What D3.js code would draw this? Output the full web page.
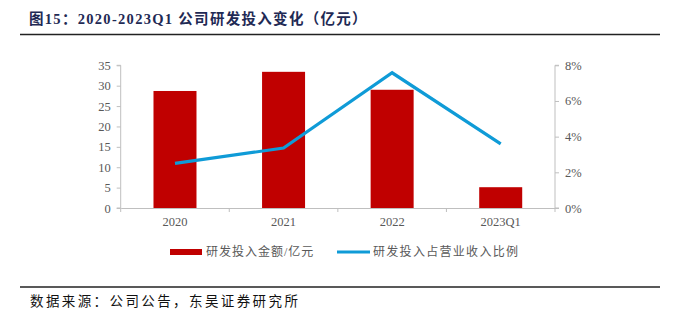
<!DOCTYPE html>
<html><head><meta charset="utf-8">
<script src="https://cdn.jsdelivr.net/npm/d3@7"></script>
<style>body{margin:0;background:#fff}svg{display:block}</style>
</head><body>
<svg id="c" width="675" height="321"></svg>
<script>
const categories = ["2020", "2021", "2022", "2023Q1"];
const rdAmount = [28.7, 33.4, 29.0, 5.1];
const rdRatio = [2.5, 3.36, 7.58, 3.59];
const leftTicks = [0, 5, 10, 15, 20, 25, 30, 35];
const rightTicks = [0, 2, 4, 6, 8];
const titleText = "图15：2020-2023Q1 公司研发投入变化（亿元）";
const sourceText = "数据来源：公司公告，东吴证券研究所";
const legendLabels = ["研发投入金额/亿元", "研发投入占营业收入比例"];

const svg = d3.select("#c");
const serif = "'Liberation Serif','Times New Roman','Noto Sans CJK SC',serif";
const cjk = "'Liberation Serif','Noto Sans CJK SC',sans-serif";

// title
svg.append("text").attr("x", 29).attr("y", 24)
  .attr("font-family", cjk).attr("font-weight", "bold").attr("font-size", 14.5)
  .attr("letter-spacing", 1.3)
  .attr("fill", "#1f2a55").text(titleText);
svg.append("line").attr("x1", 20).attr("x2", 660).attr("y1", 34.5).attr("y2", 34.5)
  .attr("stroke", "#222").attr("stroke-width", 1.6);

const x0 = 120.7, x1 = 555, yb = 208, yt = 65.3;
const x = d3.scaleBand().domain(categories).range([x0, x1]).paddingInner(0).paddingOuter(0);
const yL = d3.scaleLinear().domain([0, 35]).range([yb, yt]);
const yR = d3.scaleLinear().domain([0, 8]).range([yb, yt]);
const axisCol = "#bfbfbf", textCol = "#595959";

// bars
const bw = 43;
svg.append("g").selectAll("rect").data(rdAmount).join("rect")
  .attr("x", (d, i) => x(categories[i]) + x.bandwidth() / 2 - bw / 2)
  .attr("width", bw)
  .attr("y", d => yL(d)).attr("height", d => yb - yL(d))
  .attr("fill", "#c00000");

// axes
const gL = svg.append("g").attr("transform", `translate(${x0},0)`)
  .call(d3.axisLeft(yL).tickValues(leftTicks).tickSize(4).tickPadding(6));
const gR = svg.append("g").attr("transform", `translate(${x1},0)`)
  .call(d3.axisRight(yR).tickValues(rightTicks).tickSize(4).tickPadding(6).tickFormat(d => d + "%"));
const gX = svg.append("g").attr("transform", `translate(0,${yb})`)
  .call(d3.axisBottom(x).tickSize(0).tickPadding(9));
const bounds = categories.map(c => x(c)).concat([x1]);
svg.append("g").selectAll("line").data(bounds).join("line")
  .attr("x1", d => d).attr("x2", d => d).attr("y1", yb).attr("y2", yb + 4)
  .attr("stroke", axisCol);
[gL, gR, gX].forEach(g => {
  g.selectAll("path,line").attr("stroke", axisCol);
  g.select(".domain").attr("stroke", axisCol);
  g.selectAll("text").attr("font-family", serif).attr("font-size", 12.5).attr("fill", textCol);
});
gL.select(".domain").attr("d", `M-4,${yt}H0V${yb}H-4`);
gR.select(".domain").attr("d", `M4,${yt}H0V${yb}H4`);

// line
const line = d3.line().x((d, i) => x(categories[i]) + x.bandwidth() / 2).y(d => yR(d));
svg.append("path").datum(rdRatio).attr("d", line)
  .attr("fill", "none").attr("stroke", "#0f9bd7").attr("stroke-width", 3.2)
  .attr("stroke-linejoin", "miter");

// legend
const ly = 252;
svg.append("rect").attr("x", 170).attr("y", ly - 3).attr("width", 32).attr("height", 6).attr("fill", "#c00000");
svg.append("text").attr("x", 206).attr("y", ly).attr("dy", "0.35em")
  .attr("font-family", cjk).attr("font-size", 12).attr("letter-spacing", 1)
  .attr("fill", textCol).text(legendLabels[0]);
svg.append("line").attr("x1", 337).attr("x2", 370).attr("y1", ly).attr("y2", ly)
  .attr("stroke", "#0f9bd7").attr("stroke-width", 3.2);
svg.append("text").attr("x", 373).attr("y", ly).attr("dy", "0.35em")
  .attr("font-family", cjk).attr("font-size", 12).attr("letter-spacing", 1.3)
  .attr("fill", textCol).text(legendLabels[1]);

// footer
svg.append("line").attr("x1", 20).attr("x2", 660).attr("y1", 287).attr("y2", 287)
  .attr("stroke", "#222").attr("stroke-width", 1.6);
svg.append("text").attr("x", 30).attr("y", 306)
  .attr("font-family", cjk).attr("font-size", 13.5).attr("letter-spacing", 2.4)
  .attr("fill", "#111").text(sourceText);
</script>
</body></html>
